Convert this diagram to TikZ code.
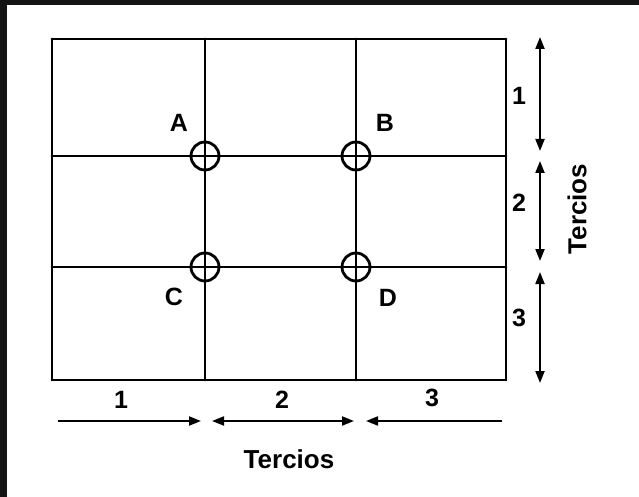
\documentclass[tikz,border=0pt]{standalone}
\usepackage{fontspec}
\setmainfont{Liberation Sans}
\usetikzlibrary{arrows.meta,positioning}

\begin{document}
\begin{tikzpicture}[x=1pt,y=-1pt,>={Triangle[length=12pt,width=9pt]},
  gridline/.style={line width=2.8pt,line cap=round},
  ring/.style={draw,circle,line width=2.8pt,minimum size=28pt,inner sep=0pt},
  dim/.style={line width=2pt},
  lbl/.style={font=\fontsize{25}{27}\selectfont\bfseries}]
  % screen frame
  \fill[black!92] (0,0) rectangle (639,497);
  \fill[white] (7,5) rectangle (639,497);
  \useasboundingbox (0,0) rectangle (639,497);
  % grid points
  \foreach \x [count=\i] in {52,205,356,506}
    \foreach \y [count=\j] in {39,156,267,380}
      \coordinate (p\i\j) at (\x,\y);
  \foreach \k in {1,...,4} {
    \draw[gridline] (p\k1) -- (p\k4);
    \draw[gridline] (p1\k) -- (p4\k);
  }
  % points of interest
  \node[ring] (ringA) at (p22) {};
  \node[ring] (ringB) at (p32) {};
  \node[ring] (ringC) at (p23) {};
  \node[ring] (ringD) at (p33) {};
  \node[lbl] (labA) at (179,123) {A};
  \node[lbl] (labB) at (385,123) {B};
  \node[lbl] (labC) at (174,297) {C};
  \node[lbl] (labD) at (388,298) {D};
  % vertical thirds
  \coordinate (r0) at (540,37);
  \coordinate (r1) at (540,151);
  \coordinate (r2) at (540,161);
  \coordinate (r3) at (540,261);
  \coordinate (r4) at (540,272);
  \coordinate (r5) at (540,383);
  \draw[dim,<->] (r0) -- (r1);
  \draw[dim,<->] (r2) -- (r3);
  \draw[dim,<->] (r4) -- (r5);
  \node[lbl] (v1) at (519,96) {1};
  \node[lbl] (v2) at (519,203) {2};
  \node[lbl] (v3) at (519,318) {3};
  \node[lbl,font=\fontsize{26}{28}\selectfont\bfseries,rotate=90] (vt) at (577,209) {Tercios};
  % horizontal thirds
  \coordinate (b0) at (58,421);
  \coordinate (b1) at (201,421);
  \coordinate (b2) at (212,421);
  \coordinate (b3) at (354,421);
  \coordinate (b4) at (366,421);
  \coordinate (b5) at (502,421);
  \draw[dim,->] (b0) -- (b1);
  \draw[dim,<->] (b2) -- (b3);
  \draw[dim,->] (b5) -- (b4);
  \node[lbl] (h1) at (121,400) {1};
  \node[lbl] (h2) at (282,400) {2};
  \node[lbl] (h3) at (432,398) {3};
  \node[lbl,font=\fontsize{26}{28}\selectfont\bfseries] (ht) at (289,459) {Tercios};
\end{tikzpicture}
\end{document}
